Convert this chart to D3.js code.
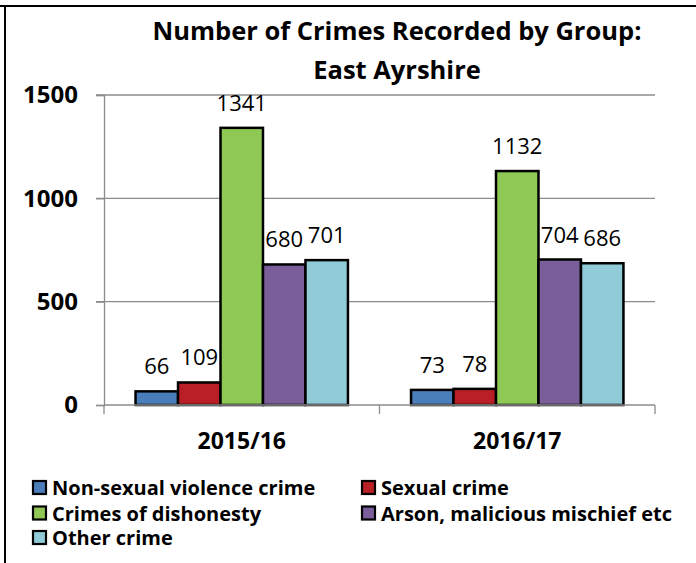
<!DOCTYPE html>
<html>
<head>
<meta charset="utf-8">
<script src="https://cdn.jsdelivr.net/npm/d3@7"></script>
<style>
  body { margin: 0; background: #fff; }
  svg { display: block; font-family: 'Open Sans', sans-serif; }
</style>
</head>
<body>
<div id="chart"></div>
<script>
const years = ['2015/16', '2016/17'];
const groups = ['Non-sexual violence crime', 'Sexual crime', 'Crimes of dishonesty', 'Arson, malicious mischief etc', 'Other crime'];
const nonSexual = [66, 73];
const sexual = [109, 78];
const dishonesty = [1341, 1132];
const arson = [680, 704];
const other = [701, 686];
const yTicks = [0, 500, 1000, 1500];

const seriesValues = [nonSexual, sexual, dishonesty, arson, other];
const colors = ['#4A7EBB', '#BA1F27', '#8FC855', '#7A5E9A', '#90CBD7'];

const width = 696, height = 563;
const svg = d3.select('#chart').append('svg')
  .attr('width', width).attr('height', height);

// frame lines (top + left)
svg.append('line').attr('x1', 0).attr('x2', width).attr('y1', 6).attr('y2', 6)
  .attr('stroke', '#000').attr('stroke-width', 2);
svg.append('line').attr('x1', 5).attr('x2', 5).attr('y1', 6).attr('y2', height)
  .attr('stroke', '#000').attr('stroke-width', 2);

const plot = { left: 104, right: 655, top: 95, bottom: 405 };

const x0 = d3.scaleBand().domain(years).range([plot.left, plot.right]).paddingInner(0.229).paddingOuter(0.1145);
const x1 = d3.scaleBand().domain(groups).range([0, x0.bandwidth()]);
const y = d3.scaleLinear().domain([0, 1500]).range([plot.bottom, plot.top]);

// title
svg.append('text').attr('x', 397).attr('y', 40).attr('text-anchor', 'middle')
  .attr('font-size', 25.5).attr('font-weight', 700).text('Number of Crimes Recorded by Group:');
svg.append('text').attr('x', 397).attr('y', 79).attr('text-anchor', 'middle')
  .attr('font-size', 25.5).attr('font-weight', 700).text('East Ayrshire');

// gridlines
svg.append('g').selectAll('line').data(yTicks.filter(d => d > 0)).join('line')
  .attr('x1', plot.left - 8).attr('x2', plot.right)
  .attr('y1', d => y(d)).attr('y2', d => y(d))
  .attr('stroke', '#8c8c8c').attr('stroke-width', 1.3);

// y axis
const yAxis = svg.append('g').attr('transform', `translate(${plot.left},0)`)
  .call(d3.axisLeft(y).tickValues(yTicks).tickSize(8).tickPadding(18).tickFormat(d3.format('d')));
yAxis.select('.domain').attr('stroke', '#8c8c8c').attr('stroke-width', 1.3);
yAxis.selectAll('.tick line').attr('stroke', '#8c8c8c').attr('stroke-width', 1.3);
yAxis.selectAll('.tick text').attr('font-family', "'Open Sans', sans-serif")
  .attr('font-size', 24).attr('font-weight', 700).attr('fill', '#000');

// bars
const yearG = svg.append('g').selectAll('g').data(years).join('g')
  .attr('transform', d => `translate(${x0(d)},0)`);

yearG.selectAll('rect').data((yr, i) => groups.map((g, j) => ({ g, v: seriesValues[j][i], c: colors[j] })))
  .join('rect')
  .attr('x', d => x1(d.g)).attr('width', x1.bandwidth())
  .attr('y', d => y(d.v)).attr('height', d => y(0) - y(d.v))
  .attr('fill', d => d.c).attr('stroke', '#000').attr('stroke-width', 2.5);

yearG.selectAll('text').data((yr, i) => groups.map((g, j) => ({ g, v: seriesValues[j][i] })))
  .join('text')
  .attr('x', d => x1(d.g) + x1.bandwidth() / 2).attr('y', d => y(d.v) - 17)
  .attr('text-anchor', 'middle').attr('font-size', 22).text(d => d.v);

// x axis
const xAxisScale = d3.scaleBand().domain(years).range([plot.left, plot.right]);
const xAxis = svg.append('g').attr('transform', `translate(0,${plot.bottom})`);
xAxis.append('line').attr('x1', plot.left).attr('x2', plot.right)
  .attr('stroke', '#8c8c8c').attr('stroke-width', 1.3);
xAxis.selectAll('line.tk').data([plot.left, plot.left + xAxisScale.step(), plot.right]).join('line')
  .attr('class', 'tk').attr('x1', d => d).attr('x2', d => d).attr('y1', 0).attr('y2', 9)
  .attr('stroke', '#8c8c8c').attr('stroke-width', 1.3);
xAxis.selectAll('text').data(years).join('text')
  .attr('x', d => x0(d) + x0.bandwidth() / 2).attr('y', 44)
  .attr('text-anchor', 'middle').attr('font-size', 23).attr('font-weight', 700).text(d => d);

// legend
const legendPos = [[32, 495], [361, 495], [32, 520.5], [361, 520.5], [32, 545]];
const legend = svg.append('g').selectAll('g').data(groups).join('g')
  .attr('transform', (d, i) => `translate(${legendPos[i][0]},${legendPos[i][1]})`);
legend.append('rect').attr('x', 1).attr('y', -14).attr('width', 13).attr('height', 13)
  .attr('fill', (d, i) => colors[i]).attr('stroke', '#000').attr('stroke-width', 2.2);
legend.append('text').attr('x', 20).attr('y', 0).attr('font-size', 20).attr('font-weight', 700).text(d => d);
</script>
</body>
</html>
